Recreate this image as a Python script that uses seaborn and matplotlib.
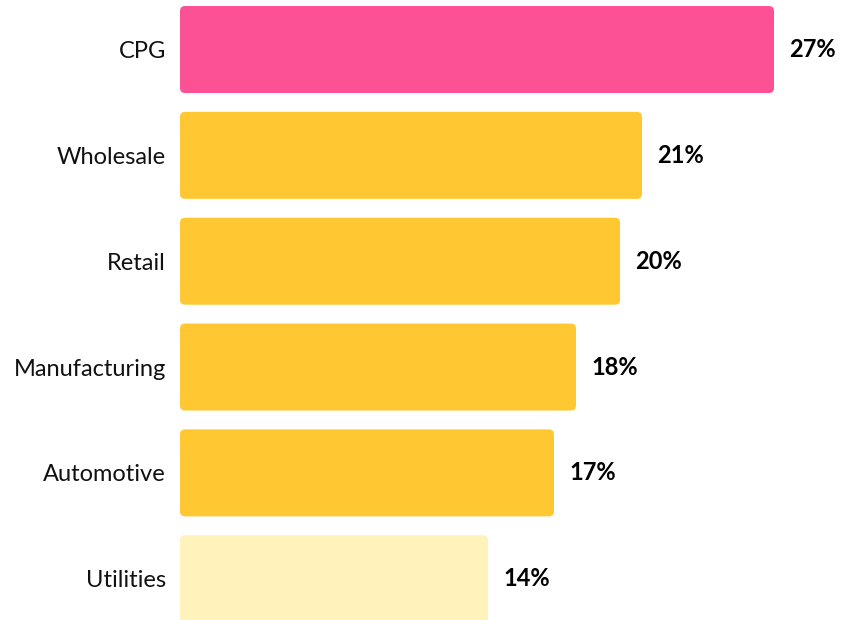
import numpy as np
import pandas as pd
import matplotlib
matplotlib.use("Agg")
import matplotlib.pyplot as plt
import seaborn as sns
from matplotlib.patches import FancyBboxPatch

categories = ["CPG", "Wholesale", "Retail", "Manufacturing", "Automotive", "Utilities"]
shares = [27, 21, 20, 18, 17, 14]
bar_colors = ["#FC5194", "#FFC833", "#FFC833", "#FFC833", "#FFC833", "#FFF2BB"]

sns.set_style("white")
plt.rcParams['font.family'] = ['Lato', 'DejaVu Sans']

df = pd.DataFrame({"industry": categories, "share": shares})

fig = plt.figure(figsize=(8.43, 6.20), dpi=100)
ax = fig.add_axes([180 / 843, 0, 1 - 180 / 843, 1])

sns.barplot(data=df, x="share", y="industry", hue="industry", palette=bar_colors,
            legend=False, width=0.822, ax=ax, saturation=1)

xmax = 663 / 22
ax.set_xlim(0, xmax)
ax.set_ylim(5.39, -0.468)

# swap plain bars for rounded ones
x_px = 22.0
y_px = 105.8
aspect = x_px / y_px
for p in list(ax.patches):
    x, y = p.get_x(), p.get_y()
    w, h = p.get_width(), p.get_height()
    fc = p.get_facecolor()
    p.remove()
    rb = FancyBboxPatch((x, y), w, h, boxstyle="round,pad=0,rounding_size=0.23",
                        mutation_aspect=aspect, facecolor=fc, edgecolor="none")
    ax.add_patch(rb)

for i, v in enumerate(shares):
    ax.text(v + 15 / x_px, i, f"{v}%", va="center", ha="left",
            fontsize=17, fontweight="bold", color="black")

ax.set_xlabel("")
ax.set_ylabel("")
ax.set_xticks([])
ax.tick_params(axis="y", length=0, pad=10, labelsize=17, labelcolor="#111111")
sns.despine(ax=ax, left=True, bottom=True)

fig.savefig("out.png", dpi=100)
